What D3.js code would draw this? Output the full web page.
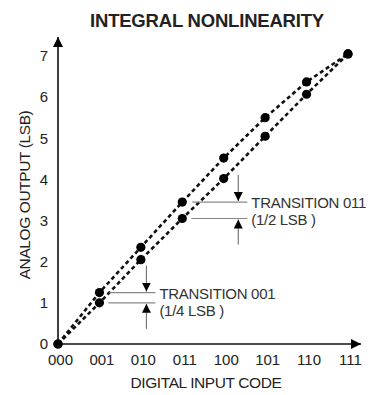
<!DOCTYPE html>
<html>
<head>
<meta charset="utf-8">
<script src="https://cdn.jsdelivr.net/npm/d3@7"></script>
<style>
  html, body { margin: 0; padding: 0; background: #fff; }
  svg { display: block; font-family: "Liberation Sans", Arial, sans-serif; }
  .tick text { fill: #222; font-size: 15px; }
  .note { fill: #333; font-size: 15px; letter-spacing: -0.3px; }
</style>
</head>
<body>
<svg id="chart" width="371" height="395"></svg>
<script>
// codes on the x axis (0..7)
const codes = ['000', '001', '010', '011', '100', '101', '110', '111'];
const yTicks = [0, 1, 2, 3, 4, 5, 6, 7];
// two transfer curves (LSB)
const upperVals = [0, 1.25, 2.35, 3.45, 4.52, 5.5, 6.37, 7.05];
const lowerVals = [0, 1.0, 2.05, 3.05, 4.02, 5.05, 6.07, 7.05];
// transition notes: code index, label lines
const notes = [
  { i: 1, lines: ['TRANSITION 001', '(1/4 LSB )'] },
  { i: 3, lines: ['TRANSITION 011', '(1/2 LSB )'] },
];

const svg = d3.select('#chart');
const x = d3.scaleLinear().domain([0, 7]).range([58, 348]);
const y = d3.scaleLinear().domain([0, 7]).range([344, 56]);

// arrow heads
const defs = svg.append('defs');
defs.append('marker').attr('id', 'axArrow')
  .attr('viewBox', '0 0 10 10').attr('refX', 10).attr('refY', 5)
  .attr('markerWidth', 11).attr('markerHeight', 10).attr('markerUnits', 'userSpaceOnUse')
  .attr('orient', 'auto')
  .append('path').attr('d', 'M0,0L10,5L0,10Z').attr('fill', '#000');
defs.append('marker').attr('id', 'noteArrow')
  .attr('viewBox', '0 0 10 10').attr('refX', 10).attr('refY', 5)
  .attr('markerWidth', 9).attr('markerHeight', 9).attr('markerUnits', 'userSpaceOnUse')
  .attr('orient', 'auto')
  .append('path').attr('d', 'M0,0L10,5L0,10Z').attr('fill', '#000');

// title
svg.append('text').attr('x', 207).attr('y', 27).attr('text-anchor', 'middle')
  .attr('font-size', '18.5px').attr('font-weight', 700).attr('fill', '#222')
  .attr('letter-spacing', '-0.2px')
  .text('INTEGRAL NONLINEARITY');

// axes lines with arrows
svg.append('line').attr('x1', x(0)).attr('y1', y(0)).attr('x2', 361).attr('y2', y(0))
  .attr('stroke', '#111').attr('stroke-width', 1.6).attr('marker-end', 'url(#axArrow)');
svg.append('line').attr('x1', x(0)).attr('y1', y(0)).attr('x2', x(0)).attr('y2', 37)
  .attr('stroke', '#111').attr('stroke-width', 1.6).attr('marker-end', 'url(#axArrow)');

// tick labels
svg.append('g').attr('transform', `translate(0,${y(0)})`)
  .call(d3.axisBottom(x).tickValues(d3.range(codes.length)).tickFormat(i => codes[i])
    .tickSize(0).tickPadding(10))
  .call(g => g.select('.domain').remove())
  .selectAll('text').attr('dx', 2).attr('font-family', null).attr('font-size', null);

svg.append('g').attr('transform', `translate(${x(0)},0)`)
  .call(d3.axisLeft(y).tickValues(yTicks).tickFormat(d3.format('d')).tickSize(0).tickPadding(10))
  .call(g => g.select('.domain').remove())
  .selectAll('text').attr('font-family', null).attr('font-size', null);

// axis titles
svg.append('text').attr('x', 206).attr('y', 388).attr('text-anchor', 'middle')
  .attr('font-size', '15.5px').attr('fill', '#222').attr('letter-spacing', '-0.4px')
  .text('DIGITAL INPUT CODE');
svg.append('text').attr('transform', 'translate(30,195) rotate(-90)').attr('text-anchor', 'middle')
  .attr('font-size', '15.5px').attr('fill', '#222').attr('letter-spacing', '-0.4px')
  .text('ANALOG OUTPUT (LSB)');

// curves
const line = d3.line().x((d, i) => x(i)).y(d => y(d));
[upperVals, lowerVals].forEach(vals => {
  svg.append('path').datum(vals).attr('d', line)
    .attr('fill', 'none').attr('stroke', '#111').attr('stroke-width', 2.6)
    .attr('stroke-dasharray', '4,3');
  svg.append('g').selectAll('circle').data(vals).enter().append('circle')
    .attr('cx', (d, i) => x(i)).attr('cy', d => y(d)).attr('r', 4.6).attr('fill', '#000');
});

// transition notes
notes.forEach(n => {
  const yu = y(upperVals[n.i]);
  const yl = y(lowerVals[n.i]);
  const x0 = x(n.i);
  const ax = x0 + (n.i === 1 ? 47 : 56);
  const xEnd = ax + 9;
  const g = svg.append('g');
  g.append('line').attr('x1', x0 + 10).attr('x2', xEnd).attr('y1', yu).attr('y2', yu)
    .attr('stroke', '#888').attr('stroke-width', 1.2);
  g.append('line').attr('x1', x0 + 9).attr('x2', xEnd).attr('y1', yl).attr('y2', yl)
    .attr('stroke', '#888').attr('stroke-width', 1.2);
  g.append('line').attr('x1', ax).attr('x2', ax).attr('y1', yu - 27).attr('y2', yu - 1)
    .attr('stroke', '#777').attr('stroke-width', 1.2).attr('marker-end', 'url(#noteArrow)');
  g.append('line').attr('x1', ax).attr('x2', ax).attr('y1', yl + 26).attr('y2', yl + 1)
    .attr('stroke', '#777').attr('stroke-width', 1.2).attr('marker-end', 'url(#noteArrow)');
  g.selectAll('text').data(n.lines).enter().append('text').attr('class', 'note')
    .attr('x', xEnd + 4).attr('y', (d, k) => yu + 6 + k * 17)
    .text(d => d);
});
</script>
</body>
</html>
